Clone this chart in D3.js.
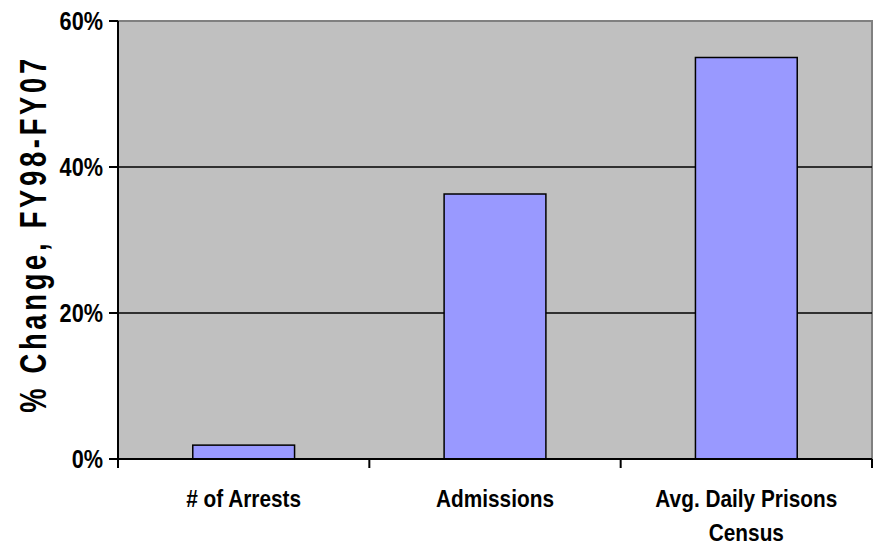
<!DOCTYPE html>
<html><head><meta charset="utf-8">
<script src="https://cdn.jsdelivr.net/npm/d3@7"></script>
<style>body{margin:0;background:#fff}svg{display:block}</style>
</head><body><svg id="c" width="874" height="545"></svg>
<script>
const categories = ["# of Arrests", "Admissions", "Avg. Daily Prisons Census"];
const categoryLines = [["# of Arrests"], ["Admissions"], ["Avg. Daily Prisons", "Census"]];
const values = [1.9, 36.3, 55.0];
const yTicks = [0, 20, 40, 60];
const yTitle = "% Change, FY98-FY07";

const svg = d3.select("#c");
const L = 118, R = 872, T = 21, B = 459;
const x = d3.scaleBand().domain(categories).range([L, R]).paddingInner(0.595).paddingOuter(0.2975);
const xb = d3.scaleBand().domain(categories).range([L, R]);
const y = d3.scaleLinear().domain([0, 60]).range([B, T]);
const font = "'Liberation Sans', Arial, sans-serif";
const sx = 0.85;

svg.append("rect").attr("x", L).attr("y", T).attr("width", R - L).attr("height", B - T).attr("fill", "#C0C0C0");
svg.append("path").attr("d", `M${L},${T}H${R}V${B}`).attr("fill", "none").attr("stroke", "#808080").attr("stroke-width", 2);
svg.selectAll(".grid").data(yTicks.filter(d => d > 0 && d < 60)).join("line")
  .attr("x1", L).attr("x2", R).attr("y1", d => y(d)).attr("y2", d => y(d))
  .attr("stroke", "#000").attr("stroke-width", 1.5);
svg.selectAll(".bar").data(values).join("rect")
  .attr("x", (d, i) => x(categories[i])).attr("width", x.bandwidth())
  .attr("y", d => y(d)).attr("height", d => B - y(d))
  .attr("fill", "#9999FF").attr("stroke", "#000").attr("stroke-width", 1.5);
svg.append("line").attr("x1", L).attr("x2", L).attr("y1", T).attr("y2", B + 9).attr("stroke", "#000").attr("stroke-width", 2);
svg.append("line").attr("x1", L - 9).attr("x2", R).attr("y1", B).attr("y2", B).attr("stroke", "#000").attr("stroke-width", 2);
svg.selectAll(".yt").data(yTicks).join("line")
  .attr("x1", L - 9).attr("x2", L).attr("y1", d => y(d)).attr("y2", d => y(d)).attr("stroke", "#000").attr("stroke-width", 2);
const bounds = categories.map(c => xb(c)).concat([R]);
svg.selectAll(".xt").data(bounds).join("line")
  .attr("x1", d => d).attr("x2", d => d).attr("y1", B).attr("y2", B + 9).attr("stroke", "#000").attr("stroke-width", 2);
svg.selectAll(".yl").data(yTicks).join("text")
  .attr("transform", d => `translate(103,${y(d) + 8.5}) scale(${sx},1)`)
  .attr("text-anchor", "end").attr("font-family", font).attr("font-weight", "bold").attr("font-size", 25.5)
  .text(d => d + "%");
categoryLines.forEach((lines, i) => {
  const cx = xb(categories[i]) + xb.bandwidth() / 2;
  lines.forEach((t, j) => {
    svg.append("text").attr("transform", `translate(${cx},${507 + j * 34}) scale(${sx},1)`)
      .attr("text-anchor", "middle").attr("font-family", font).attr("font-weight", "bold").attr("font-size", 24.5)
      .text(t);
  });
});
svg.append("text").attr("transform", `translate(46,234) rotate(-90) scale(0.74,1)`)
  .attr("text-anchor", "middle").attr("font-family", font).attr("font-weight", "bold").attr("font-size", 37)
  .attr("letter-spacing", 5).text(yTitle);
</script></body></html>
